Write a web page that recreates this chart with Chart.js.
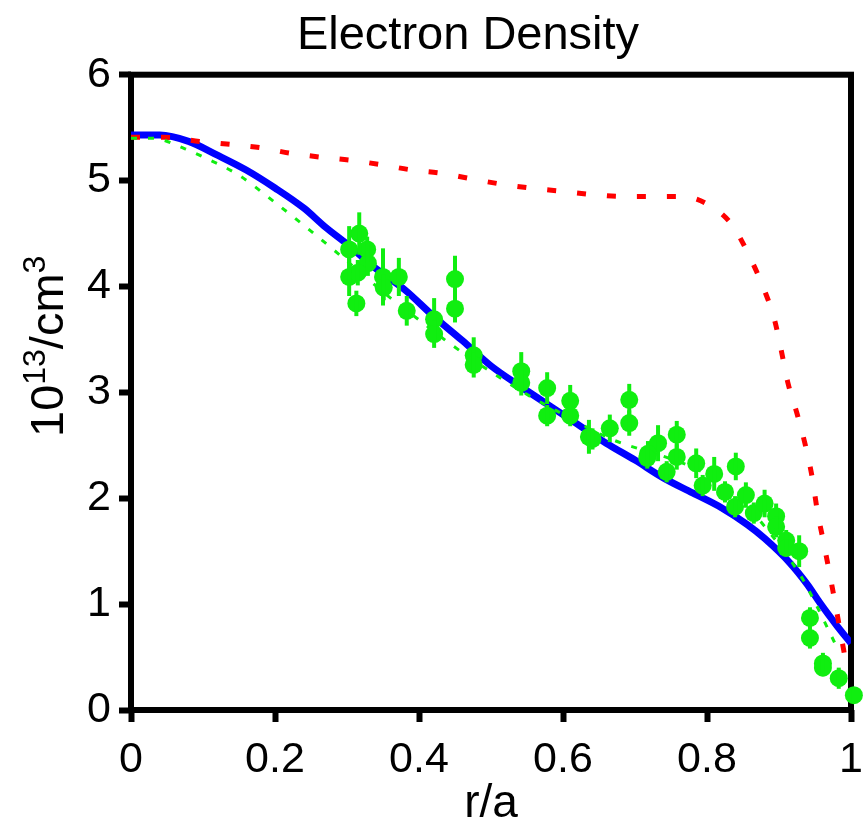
<!DOCTYPE html>
<html>
<head>
<meta charset="utf-8">
<script src="https://cdn.jsdelivr.net/npm/chart.js@4.4.1/dist/chart.umd.min.js"></script>
<style>
  html, body { margin: 0; padding: 0; background: #fff; }
  #wrap { width: 867px; height: 827px; }
</style>
</head>
<body>
<div id="wrap"><canvas id="grafico" width="867" height="827"></canvas></div>
<script>
// perfil ajustado (azul)
const fitR = [0, 0.04, 0.08, 0.12, 0.16, 0.2, 0.24, 0.27, 0.3, 0.34, 0.38, 0.42, 0.46, 0.5, 0.54, 0.58, 0.62, 0.66, 0.7, 0.74, 0.78, 0.82, 0.856, 0.88, 0.915, 0.94, 0.957, 0.98, 1.0];
const fitN = [5.43, 5.43, 5.37, 5.24, 5.10, 4.93, 4.74, 4.56, 4.40, 4.17, 3.97, 3.72, 3.49, 3.25, 3.06, 2.88, 2.70, 2.52, 2.36, 2.19, 2.05, 1.91, 1.75, 1.62, 1.39, 1.18, 1.01, 0.80, 0.63];

// perfil tracejado vermelho
const redR = [0, 0.045, 0.095, 0.14, 0.18, 0.22, 0.265, 0.307, 0.347, 0.39, 0.43, 0.47, 0.511, 0.554, 0.597, 0.638, 0.683, 0.725, 0.765, 0.805, 0.835, 0.86, 0.88, 0.894, 0.903, 0.912, 0.925, 0.937, 0.946, 0.953, 0.962, 0.97, 0.978, 0.986, 0.994];
const redN = [5.41, 5.41, 5.37, 5.34, 5.31, 5.26, 5.22, 5.19, 5.15, 5.10, 5.07, 5.02, 4.97, 4.93, 4.90, 4.87, 4.85, 4.85, 4.85, 4.76, 4.58, 4.27, 3.96, 3.68, 3.40, 3.10, 2.80, 2.49, 2.20, 1.89, 1.58, 1.30, 1.01, 0.71, 0.41];

// perfil tracejado verde (pontinhos)
const greenR = [0, 0.03, 0.075, 0.095, 0.15, 0.195, 0.245, 0.286, 0.336, 0.355, 0.397, 0.443, 0.494, 0.545, 0.59, 0.67, 0.742, 0.79, 0.84, 0.89, 0.93, 0.946, 0.967, 0.982];
const greenN = [5.40, 5.40, 5.30, 5.24, 5.05, 4.82, 4.55, 4.32, 4.03, 3.92, 3.70, 3.46, 3.22, 3.00, 2.83, 2.55, 2.39, 2.26, 2.03, 1.65, 1.27, 1.07, 0.78, 0.57];

// medidas com barra de erro
const medR = [0.317, 0.303, 0.328, 0.329, 0.303, 0.315, 0.313, 0.35, 0.351, 0.372, 0.383, 0.421, 0.421, 0.45, 0.45, 0.476, 0.476,
              0.542, 0.542, 0.578, 0.578, 0.61, 0.61, 0.636, 0.641, 0.665, 0.692, 0.692,
              0.732, 0.718, 0.717, 0.758, 0.758, 0.744, 0.785, 0.81, 0.794, 0.84, 0.825, 0.839, 0.854, 0.865, 0.88,
              0.896, 0.896, 0.91, 0.91, 0.928, 0.943, 0.943, 0.961, 0.961, 0.983, 1.004];
const medN = [4.50, 4.35, 4.35, 4.22, 4.09, 4.13, 3.84, 4.09, 3.99, 4.09, 3.77, 3.69, 3.55, 4.07, 3.79, 3.35, 3.26,
              3.20, 3.09, 3.04, 2.78, 2.92, 2.78, 2.58, 2.56, 2.66, 2.93, 2.71,
              2.52, 2.42, 2.38, 2.60, 2.39, 2.25, 2.33, 2.23, 2.12, 2.30, 2.06, 1.92, 2.03, 1.86, 1.95,
              1.83, 1.73, 1.60, 1.53, 1.50, 0.87, 0.68, 0.44, 0.40, 0.30, 0.14];
const medErr = [0.20, 0.22, 0.12, 0.12, 0.18, 0.12, 0.12, 0.27, 0.12, 0.18, 0.14, 0.20, 0.13, 0.22, 0.13, 0.17, 0.12,
                0.18, 0.12, 0.15, 0.10, 0.15, 0.10, 0.16, 0.10, 0.13, 0.15, 0.12,
                0.17, 0.12, 0.10, 0.13, 0.12, 0.10, 0.14, 0.16, 0.10, 0.13, 0.10, 0.10, 0.12, 0.10, 0.13,
                0.12, 0.10, 0.10, 0.08, 0.15, 0.10, 0.10, 0.10, 0.08, 0.10, 0.06];

const xTicksLabel = 'r/a';
const titulo = 'Electron Density';

const verde = '#10ee10';
const fonte = "'Liberation Sans', Arial, sans-serif";

function pares(xs, ys) {
    return xs.map((x, i) => ({ x: x, y: ys[i] }));
}

// moldura preta grossa em volta da area do grafico
const molduraPlugin = {
    id: 'moldura',
    beforeDatasetsDraw(chart) {
        const { ctx, chartArea } = chart;
        ctx.save();
        ctx.strokeStyle = '#000';
        ctx.lineWidth = 6;
        ctx.strokeRect(chartArea.left, chartArea.top, chartArea.right - chartArea.left, chartArea.bottom - chartArea.top);
        ctx.restore();
    }
};

// barras de erro verticais das medidas
const barraErroPlugin = {
    id: 'barraErro',
    afterDatasetsDraw(chart) {
        const ctx = chart.ctx;
        const yScale = chart.scales.y;
        const meta = chart.getDatasetMeta(0);
        ctx.save();
        ctx.strokeStyle = verde;
        ctx.lineWidth = 4;
        meta.data.forEach((pt, i) => {
            const y1 = yScale.getPixelForValue(medN[i] + medErr[i]);
            const y2 = yScale.getPixelForValue(medN[i] - medErr[i]);
            ctx.beginPath();
            ctx.moveTo(pt.x, y1);
            ctx.lineTo(pt.x, y2);
            ctx.stroke();
        });
        ctx.restore();
    }
};

// titulo do eixo y com sobrescritos
const tituloYPlugin = {
    id: 'tituloY',
    afterDraw(chart) {
        const ctx = chart.ctx;
        const partes = [
            { t: '10', big: true },
            { t: '13', big: false },
            { t: '/cm', big: true },
            { t: '3', big: false }
        ];
        ctx.save();
        ctx.translate(63, 437);
        ctx.rotate(-Math.PI / 2);
        ctx.fillStyle = '#000';
        ctx.textBaseline = 'alphabetic';
        ctx.textAlign = 'left';
        let x = 0;
        partes.forEach(p => {
            ctx.font = (p.big ? '47px ' : '32px ') + fonte;
            ctx.fillText(p.t, x, p.big ? 0 : -18);
            x += ctx.measureText(p.t).width;
        });
        ctx.restore();
    }
};

const ctx1 = document.getElementById('grafico').getContext('2d');
const chart1 = new Chart(ctx1, {
    type: 'scatter',
    data: {
        datasets: [
            {
                label: 'medidas',
                data: pares(medR, medN),
                backgroundColor: verde,
                borderWidth: 0,
                pointRadius: 9,
                pointHoverRadius: 9,
                clip: false
            },
            {
                label: 'verde',
                data: pares(greenR, greenN),
                showLine: true,
                borderColor: verde,
                borderWidth: 3,
                borderDash: [6, 11],
                pointRadius: 0,
                cubicInterpolationMode: 'monotone'
            },
            {
                label: 'vermelho',
                data: pares(redR, redN),
                showLine: true,
                borderColor: '#ff0000',
                borderWidth: 5,
                borderDash: [9, 21],
                pointRadius: 0,
                cubicInterpolationMode: 'monotone'
            },
            {
                label: 'ajuste',
                data: pares(fitR, fitN),
                showLine: true,
                borderColor: '#0000ff',
                borderWidth: 7,
                pointRadius: 0,
                cubicInterpolationMode: 'monotone'
            }
        ]
    },
    options: {
        responsive: false,
        animation: false,
        layout: { padding: { left: 85, right: 16, top: 0, bottom: 0 } },
        plugins: {
            legend: { display: false },
            tooltip: { enabled: false },
            title: {
                display: true,
                text: titulo,
                color: '#000',
                font: { family: fonte, size: 47, weight: 'normal', lineHeight: 1.1 },
                padding: { top: 10, bottom: 13 }
            }
        },
        scales: {
            x: {
                type: 'linear',
                min: 0,
                max: 1,
                ticks: {
                    stepSize: 0.2,
                    color: '#000',
                    padding: 12,
                    maxRotation: 0,
                    font: { family: fonte, size: 43 },
                    callback: v => String(Math.round(v * 10) / 10)
                },
                grid: {
                    drawOnChartArea: false,
                    tickLength: 12,
                    tickWidth: 6,
                    tickColor: '#000'
                },
                border: { display: false },
                title: {
                    display: true,
                    text: xTicksLabel,
                    color: '#000',
                    font: { family: fonte, size: 46, lineHeight: 1 },
                    padding: 0
                },
                afterFit: s => {
                    s.height = 117;
                    s.paddingLeft = 0;
                    s.paddingRight = 0;
                }
            },
            y: {
                type: 'linear',
                min: 0,
                max: 6,
                ticks: {
                    stepSize: 1,
                    color: '#000',
                    padding: 8,
                    font: { family: fonte, size: 43 }
                },
                grid: {
                    drawOnChartArea: false,
                    tickLength: 12,
                    tickWidth: 6,
                    tickColor: '#000'
                },
                border: { display: false },
                afterFit: s => { s.width = 46; }
            }
        }
    },
    plugins: [molduraPlugin, barraErroPlugin, tituloYPlugin]
});
</script>
</body>
</html>
